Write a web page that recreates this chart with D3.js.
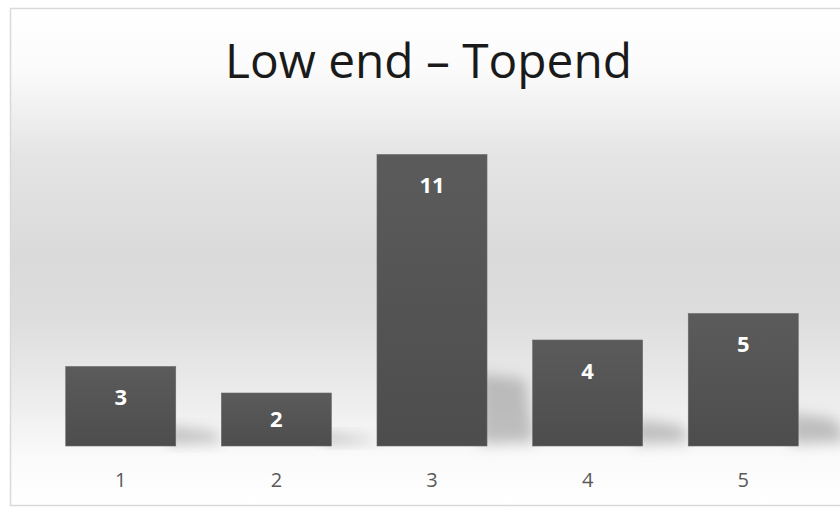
<!DOCTYPE html>
<html><head><meta charset="utf-8">
<script src="https://cdn.jsdelivr.net/npm/d3@7"></script>
<style>html,body{margin:0;padding:0;background:#fff;}svg{display:block;}</style>
</head><body>
<svg id="chart" width="840" height="508"></svg>
<script>
const title = "Low end \u2013 Topend";
const categories = ["1", "2", "3", "4", "5"];
const values = [3, 2, 11, 4, 5];
const yMax = 12;

const W = 840, H = 508;
const svg = d3.select("#chart");
const defs = svg.append("defs");

const bg = defs.append("linearGradient").attr("id", "bg").attr("x1", 0).attr("y1", 0).attr("x2", 0).attr("y2", 1);
[[0, "#ffffff"], [0.12, "#fbfbfb"], [0.3, "#e4e4e4"], [0.5, "#dadada"], [0.62, "#dddddd"], [0.8, "#eeeeee"], [0.9, "#fafafa"], [1, "#ffffff"]]
  .forEach(([o, c]) => bg.append("stop").attr("offset", o).attr("stop-color", c));

const barG = defs.append("linearGradient").attr("id", "barg").attr("x1", 0).attr("y1", 0).attr("x2", 0).attr("y2", 1);
[[0, "#5b5b5b"], [1, "#4d4d4d"]].forEach(([o, c]) => barG.append("stop").attr("offset", o).attr("stop-color", c));

const blur = defs.append("filter").attr("id", "blur").attr("x", "-50%").attr("y", "-50%").attr("width", "200%").attr("height", "200%");
blur.append("feGaussianBlur").attr("stdDeviation", 7);

// chart area background with border
svg.append("rect").attr("x", 10.5).attr("y", 8.5).attr("width", W).attr("height", 497)
  .attr("fill", "url(#bg)").attr("stroke", "#d9d9d9").attr("stroke-width", 1.5);

const x = d3.scaleBand().domain(categories).range([43, 821]).paddingInner(0.293).paddingOuter(0.146);
const y = d3.scaleLinear().domain([0, yMax]).range([446, 128]);

const data = categories.map((c, i) => ({ c, v: values[i] }));

// shadows
svg.append("g").selectAll("path").data(data).join("path")
  .attr("filter", "url(#blur)")
  .attr("fill", "#9a9a9a")
  .attr("opacity", 0.6)
  .attr("d", d => {
    const x1 = x(d.c) + x.bandwidth();
    const y0 = y(0);
    const h = y0 - y(d.v);
    const sh = h * 0.25;
    return `M${x1 - 8},${y0 - 2} L${x1 - 8},${y0 - sh} L${x1 + 38},${y0 - sh + 6} L${x1 + 48},${y0 - 4} Z`;
  });

// bars
svg.append("g").selectAll("rect").data(data).join("rect")
  .attr("x", d => x(d.c))
  .attr("y", d => y(d.v))
  .attr("width", x.bandwidth())
  .attr("height", d => y(0) - y(d.v))
  .attr("fill", "url(#barg)")
  .attr("stroke", "#6a6a6a").attr("stroke-width", 0.6);

// value labels
svg.append("g").selectAll("text").data(data).join("text")
  .attr("x", d => x(d.c) + x.bandwidth() / 2)
  .attr("y", d => Math.min(y(d.v) + 31, (y(d.v) + y(0)) / 2) )
  .attr("dy", "0.35em")
  .attr("text-anchor", "middle")
  .attr("font-family", "'Open Sans', 'Noto Sans', sans-serif")
  .attr("font-weight", "bold")
  .attr("font-size", 22)
  .attr("fill", "#ffffff")
  .text(d => d.v);

// x axis labels
const axis = d3.axisBottom(x).tickSize(0).tickPadding(0);
const ax = svg.append("g").attr("transform", `translate(0,${y(0) + 34})`).call(axis);
ax.select(".domain").remove();
ax.selectAll("text")
  .attr("dy", "0.35em")
  .attr("font-family", "'Open Sans', 'Noto Sans', sans-serif")
  .attr("font-size", 20)
  .attr("fill", "#595959");

// title
svg.append("text")
  .attr("x", 428.5).attr("y", 78)
  .attr("text-anchor", "middle")
  .attr("font-family", "'Open Sans', 'Noto Sans', sans-serif")
  .attr("font-size", 48)
  .attr("fill", "#1a1a1a")
  .attr("textLength", 407).attr("lengthAdjust", "spacingAndGlyphs")
  .text(title);
</script>
</body></html>
